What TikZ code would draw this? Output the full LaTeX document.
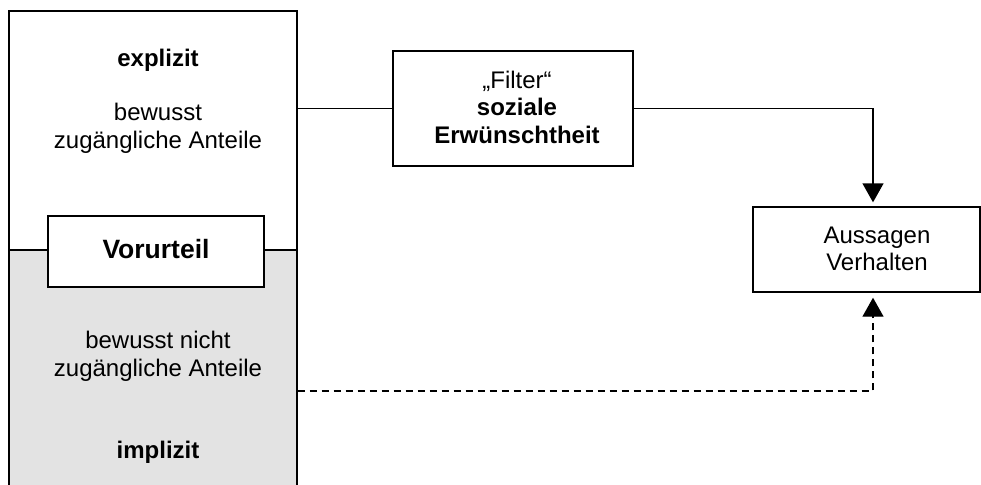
\documentclass[tikz,border=0pt]{standalone}
\usepackage{fontspec}
\setmainfont{Liberation Sans}
\usetikzlibrary{arrows.meta}
\definecolor{implgrey}{HTML}{E3E3E3}
\begin{document}
\begin{tikzpicture}[x=1pt,y=-1pt,line width=1.4pt,
  every node/.style={font=\fontsize{24}{27.5}\selectfont, align=center, inner sep=0pt},
  boxed/.style={draw, rectangle, fill=white},
  tip/.style={-{Triangle[width=21pt,length=19pt]}}]
\useasboundingbox (0,0) rectangle (981,484);
\fill[implgrey] (9,250) rectangle (297,492);
\node[draw, rectangle, minimum width=288pt, minimum height=481pt] (big) at (153,251.5) {};
\draw (big.west |- 0,250) coordinate (divl) -- (big.east |- 0,250) coordinate (divr);
\node[boxed, minimum width=216pt, minimum height=71pt] (vor) at (156,251.5) {};
\node[font=\fontsize{26.5}{30}\selectfont\bfseries] (vortxt) at (156,249) {Vorurteil};
\node (expl) at (158,60) {\textbf{explizit}};
\node (bz) at (158,128.5) {bewusst\\zugängliche Anteile};
\node (bnz) at (158,356.5) {bewusst nicht\\zugängliche Anteile};
\node (impl) at (158,452) {\textbf{implizit}};
\node[boxed, minimum width=240pt, minimum height=115pt] (filt) at (513,108.5) {};
\node (filttxt) at (517,107) {„Filter“\\\textbf{soziale}\\\textbf{Erwünschtheit}};
\node[boxed, minimum width=227pt, minimum height=85pt] (aus) at (866.5,249.5) {};
\node (austxt) at (877,249) {Aussagen\\Verhalten};
\coordinate (ax) at (873,0);
\draw (big.east |- filt.west) -- (filt.west);
\draw[tip, shorten >=4pt] (filt.east) -| (ax |- aus.north);
\coordinate (dstart) at (big.east |- 0,391);
\draw[tip, dash pattern=on 7pt off 5pt, shorten >=5pt] (dstart) -| (ax |- aus.south);
\end{tikzpicture}
\end{document}
